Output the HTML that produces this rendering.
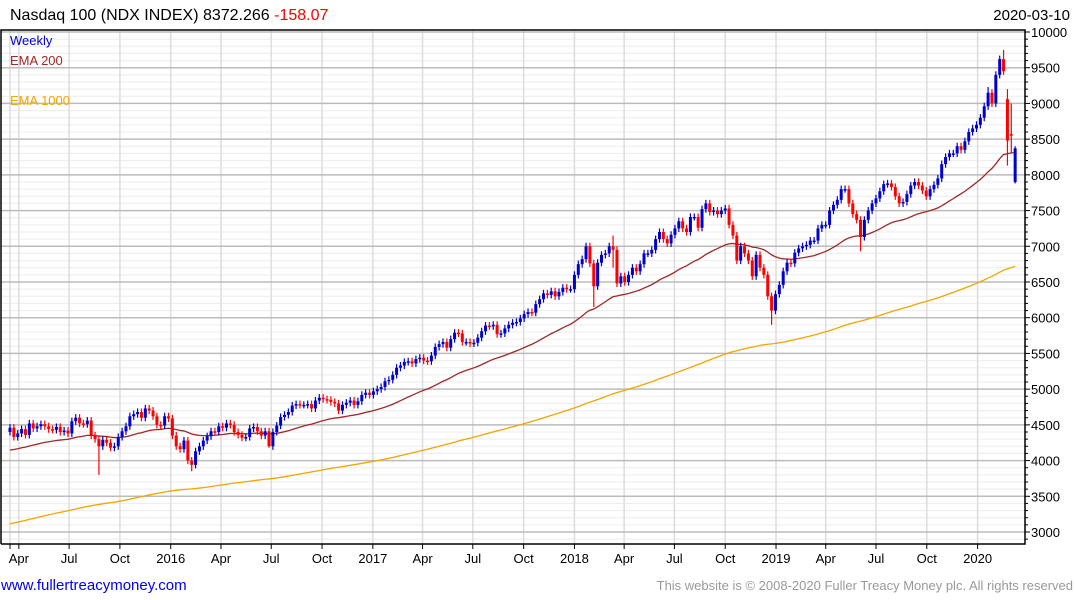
<!DOCTYPE html>
<html><head><meta charset="utf-8"><style>
body{margin:0;width:1075px;height:600px;background:#fff;overflow:hidden;font-family:"Liberation Sans","DejaVu Sans",sans-serif}
svg{position:absolute;left:0;top:0}
</style></head><body>
<svg id="chart" width="1075" height="600"></svg>
<script>
const startDate = Date.UTC(2015,2,16);
const closes = [
// 2015 from Mar 16
4460,4330,4380,4440,4360,4520,4450,4480,4510,4480,4440,4430,4470,4400,4420,4380,4550,4600,4520,4510,4560,4350,4300,4200,4290,4250,4180,4200,4330,4410,4480,4620,4650,4680,4600,4730,4700,4620,4500,4490,4620,4590,
// 2016
4350,4200,4160,4280,4000,3940,4130,4200,4280,4340,4410,4400,4480,4460,4520,4500,4400,4360,4320,4330,4450,4470,4410,4350,4410,4200,4400,4490,4610,4640,4680,4770,4790,4780,4780,4790,4730,4840,4880,4860,4850,4820,4800,4700,4780,4810,4840,4780,4830,4920,4950,4920,
// 2017
4970,5000,5030,5110,5130,5200,5300,5330,5380,5390,5360,5420,5440,5400,5390,5470,5590,5630,5660,5580,5700,5790,5780,5660,5660,5640,5650,5720,5810,5890,5880,5900,5770,5780,5850,5900,5930,5940,5990,6050,6080,6070,6190,6260,6340,6320,6370,6300,6360,6420,6400,6400,
// 2018
6600,6750,6820,7000,6760,6440,6770,6880,6900,7000,6950,6480,6580,6500,6600,6700,6650,6750,6900,6900,6950,7100,7200,7100,7040,7160,7250,7350,7250,7200,7410,7410,7260,7520,7600,7480,7500,7450,7500,7530,7300,7150,6800,7000,6900,6800,6580,6880,6700,6600,6300,6100,6330,
// 2019
6460,6650,6770,6760,6910,6970,7000,7020,7080,7080,7250,7300,7300,7500,7580,7650,7800,7800,7600,7450,7370,7130,7370,7500,7600,7670,7770,7870,7880,7830,7700,7600,7620,7730,7850,7900,7850,7780,7700,7800,7860,7950,8150,8250,8300,8300,8400,8350,8470,8600,8650,8700,
// 2020
8800,8960,9150,9000,9400,9620,9450,8480,8550,8372
];
const firstOpen = 4400;
const opensOverride = {258:9060,259:8570,260:7900};
const wickLows = {23:3800,47:3850,67:4180,151:6150,156:6700,197:5900,220:6930,258:8130,259:8300,260:7880};
const wickHighs = {156:7150,253:9230,257:9750,258:9200,259:9000,260:8400};
const yTicks = [3000,3500,4000,4500,5000,5500,6000,6500,7000,7500,8000,8500,9000,9500,10000];
const xTickDates = [[2015,3,'Apr'],[2015,6,'Jul'],[2015,9,'Oct'],[2016,0,'2016'],[2016,3,'Apr'],[2016,6,'Jul'],[2016,9,'Oct'],[2017,0,'2017'],[2017,3,'Apr'],[2017,6,'Jul'],[2017,9,'Oct'],[2018,0,'2018'],[2018,3,'Apr'],[2018,6,'Jul'],[2018,9,'Oct'],[2019,0,'2019'],[2019,3,'Apr'],[2019,6,'Jul'],[2019,9,'Oct'],[2020,0,'2020']];
const ema200Seed = 4130, ema1000Seed = 3100;

const L=1,R=1025,T=30,B=544;
const y = v => 32 + (10000 - v) * 0.071428;
const weekX = w => 10 + w * 3.866;
const dateX = (yr,m) => weekX((Date.UTC(yr,m,1)-startDate)/(7*86400000));
const svg = document.getElementById('chart');
const NS='http://www.w3.org/2000/svg';
function mk(tag, attrs, parent){const e=document.createElementNS(NS,tag);for(const k in attrs)e.setAttribute(k,attrs[k]);(parent||svg).appendChild(e);return e;}

for(let v=2900; v<=10000; v+=100){
  if(v%500===0) continue;
  const yy=y(v); if(yy<T||yy>B) continue;
  const g=mk('line',{x1:L,x2:R,y1:yy,y2:yy,stroke:'#ececec','stroke-width':1});
  
  
  const t=mk('line',{x1:R,x2:R+3,y1:yy,y2:yy,stroke:'#000','stroke-width':1});
  
  
}
const firstG = mk('line',{x1:10,x2:10,y1:T,y2:B,stroke:'#ddd','stroke-width':1.5});


xTickDates.forEach(d=>{
  const xx=dateX(d[0],d[1]);
  const g=mk('line',{x1:xx,x2:xx,y1:T,y2:B,stroke:'#ddd','stroke-width':1.5});
  
  
  const tk=mk('line',{x1:xx,x2:xx,y1:B,y2:B+5,stroke:'#000','stroke-width':1});
  
  
  const tx=mk('text',{x:xx,y:563,'font-size':13,'text-anchor':'middle',fill:'#000'});
  tx.textContent=d[2];
  
  
});
const tk0=mk('line',{x1:10,x2:10,y1:B,y2:B+5,stroke:'#000'});


yTicks.forEach(v=>{
  const yy=y(v);
  const g=mk('line',{x1:L,x2:R,y1:yy,y2:yy,stroke:'#bbb','stroke-width':1.5});
  
  
  const t=mk('line',{x1:R,x2:R+5,y1:yy,y2:yy,stroke:'#000'});
  
  
  const tx=mk('text',{x:1031,y:yy+5,'font-size':13,fill:'#000'});
  tx.textContent=v;
  
  
});

function ema(seed, a){let e=seed;const out=[];closes.forEach(c=>{e=e+a*(c-e);out.push(e);});return out;}
const e200=ema(ema200Seed,2/41), e1000=ema(ema1000Seed,2/201);
const p1=mk('polyline',{points:e1000.map((v,i)=>weekX(i)+','+y(v)).join(' '),fill:'none',stroke:'#f5a400','stroke-width':1.3});


const p2=mk('polyline',{points:e200.map((v,i)=>weekX(i)+','+y(v)).join(' '),fill:'none',stroke:'#a02828','stroke-width':1.3});



closes.forEach((c,i)=>{
  const o = opensOverride[i]!==undefined?opensOverride[i]:(i===0?firstOpen:closes[i-1]);
  const up = c>=o;
  const col = up?'#0000cc':'#ff0000';
  const hi = wickHighs[i]!==undefined?wickHighs[i]:Math.max(o,c)+50;
  const lo = wickLows[i]!==undefined?wickLows[i]:Math.min(o,c)-50;
  const xx=weekX(i);
  const g=mk('g',{});
  
  
  mk('line',{x1:xx,x2:xx,y1:y(hi),y2:y(lo),stroke:col,'stroke-width':1.2},g);
  const top=y(Math.max(o,c)), h=Math.max(1.5,y(Math.min(o,c))-top);
  mk('rect',{x:xx-1.5,y:top,width:3,height:h,fill:col},g);
});

const fr=mk('path',{d:`M${L},${B} L${L},${T} L${R},${T} L${R},${B} L${L},${B}`,fill:'none',stroke:'#000','stroke-width':1.5});


</script>
<svg width="1075" height="600" style="pointer-events:none">
<text x="10" y="20" font-size="16" fill="#000">Nasdaq 100 (NDX INDEX) 8372.266 <tspan fill="#ff0000">-158.07</tspan></text>
<text x="1070" y="20" font-size="15" fill="#000" text-anchor="end">2020-03-10</text>
<text x="10" y="45" font-size="13" fill="#0000dd">Weekly</text>
<text x="10" y="65" font-size="13" fill="#a02828">EMA 200</text>
<text x="10" y="105" font-size="13" fill="#f5a400">EMA 1000</text>
<text x="1" y="590" font-size="15" fill="#0000ee">www.fullertreacymoney.com</text>
<text x="1073" y="590" font-size="13" fill="#999" text-anchor="end">This website is © 2008-2020 Fuller Treacy Money plc. All rights reserved</text>
</svg>
</body></html>
